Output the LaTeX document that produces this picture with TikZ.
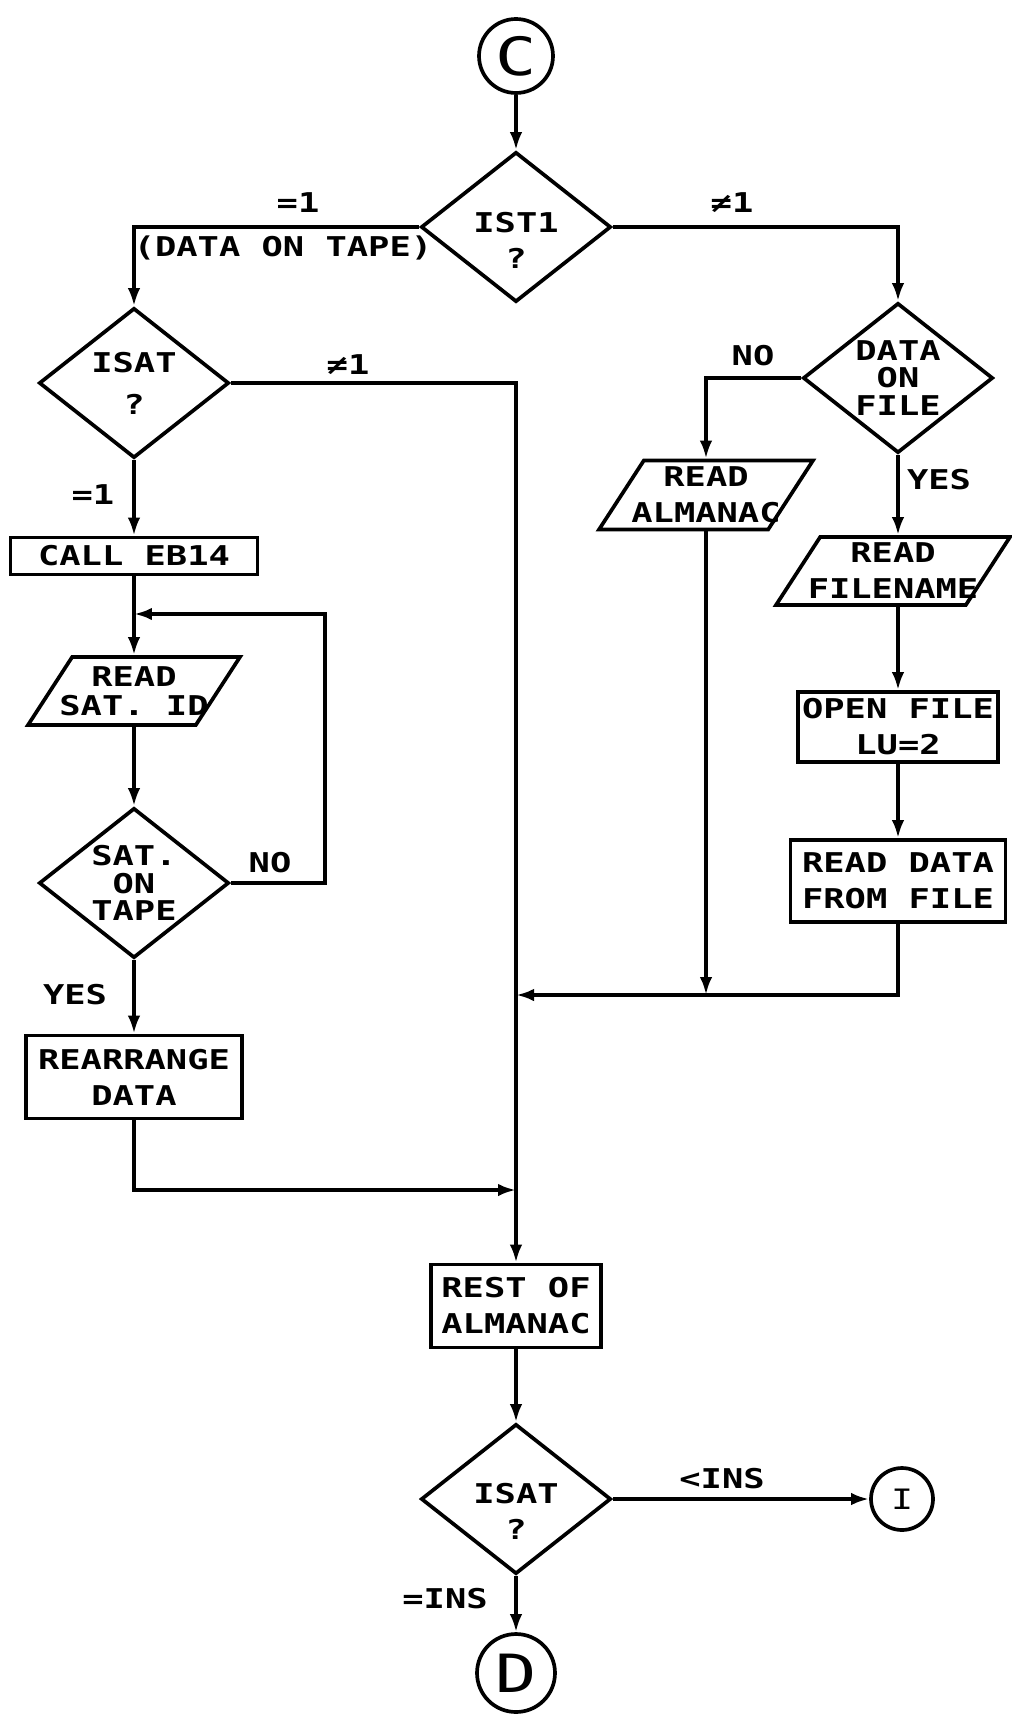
\documentclass[tikz,border=0pt]{standalone}
\usepackage{fontspec}
\newfontfamily\plotfont[FakeStretch=1.3]{DejaVu Sans Mono}
\usetikzlibrary{shapes.geometric,arrows.meta}
\tikzset{
  flow/.style={line width=2.1pt,-{Latex[length=3.6mm,width=2.5mm]}},
  decision/.style={diamond,draw,line width=2.1pt,minimum width=3.8cm,minimum height=3cm,
    inner sep=0pt,aspect=1.27,align=center},
  process/.style={rectangle,draw,line width=2.1pt,inner sep=0pt,align=center},
  io/.style={trapezium,trapezium left angle=57,trapezium right angle=123,
    trapezium stretches body,draw,line width=2.1pt,inner sep=0pt},
  connector/.style={circle,draw,line width=2.1pt,inner sep=0pt,
    font=\plotfont\mdseries\fontsize{30}{30}\selectfont},
  note/.style={inner sep=1pt}
}
\begin{document}
\begin{tikzpicture}[x={(0.02cm,0cm)},y={(0cm,-0.02cm)},
  font=\plotfont\bfseries\fontsize{15.5}{20.5}\selectfont]
\useasboundingbox (0,0) rectangle (1011,1716);
% boxes
\node[connector,minimum size=1.48cm] (cC) at (516,56) {C};
\node[decision,label={[align=center,yshift=-0.26cm]center:IST1\\?}] (dIST) at (516,227) {};
\node[decision] (dISATa) at (134,383) {ISAT\\[3.5pt]?};
\node[process,minimum width=4.94cm,minimum height=0.74cm] (bCall) at (134,556) {CALL EB14};
\node[io,minimum width=4.24cm,
  label={[align=center]center:READ\\[-4pt]SAT. ID}] (pSatId) at (134,691) {\rule{0pt}{1.36cm}};
\node[decision] (dOnTape) at (134,883) {SAT.\\[-5pt]ON\\[-5pt]TAPE};
\node[process,minimum width=4.32cm,minimum height=1.66cm] (bRearr) at (134,1077) {REARRANGE\\DATA};
\node[decision] (dOnFile) at (898,378) {DATA\\[-5pt]ON\\[-5pt]FILE};
\node[io,minimum width=4.28cm,
  label={[align=center]center:READ\\ALMANAC}] (pAlm) at (706,495) {\rule{0pt}{1.38cm}};
\node[io,minimum width=4.68cm,
  label={[align=center]center:READ\\FILENAME}] (pFile) at (893,571) {\rule{0pt}{1.36cm}};
\node[process,minimum width=4cm,minimum height=1.4cm] (bOpen) at (898,727) {OPEN FILE\\LU=2};
\node[process,minimum width=4.3cm,minimum height=1.64cm] (bRead) at (898,881) {READ DATA\\FROM FILE};
\node[process,minimum width=3.4cm,minimum height=1.66cm] (bRest) at (516,1306) {REST OF\\ALMANAC};
\node[decision,label={[align=center,yshift=-0.24cm]center:ISAT\\?}] (dISATb) at (516,1499) {};
\node[connector,minimum size=1.24cm,font=\plotfont\mdseries\fontsize{16}{16}\selectfont] (cI) at (902,1499) {I};
\node[connector,minimum size=1.56cm] (cD) at (516,1673) {D};
% free ends
\coordinate (loopR) at (325,614);
\coordinate (loopIn) at (134,614);
\coordinate (joinL) at (516,1190);
\coordinate (joinR) at (516,995);
% lines
\draw[flow] (cC.south) -- (dIST.north);
\draw[flow] (dIST.west) -| (dISATa.north);
\draw[flow] (dIST.east) -| (dOnFile.north);
\draw[flow] (dISATa.east) -| (bRest.north);
\draw[flow] (dISATa.south) -- (bCall.north);
\draw[flow] (bCall.south) -- (pSatId.north);
\draw[flow] (pSatId.south) -- (dOnTape.north);
\draw[flow] (dOnTape.east) -| (loopR) -- (loopIn);
\draw[flow] (dOnTape.south) -- (bRearr.north);
\draw[flow] (bRearr.south) |- (joinL);
\draw[flow] (dOnFile.west) -| (pAlm.north);
\draw[flow] (dOnFile.south) -- (dOnFile.south |- pFile.north);
\draw[flow] (bOpen.north |- pFile.south) -- (bOpen.north);
\draw[flow] (bOpen.south) -- (bRead.north);
\draw[flow] (bRead.south) |- (joinR);
\draw[flow] (pAlm.south) -- (pAlm.south |- joinR);
\draw[flow] (bRest.south) -- (dISATb.north);
\draw[flow] (dISATb.east) -- (cI.west);
\draw[flow] (dISATb.south) -- (cD.north);
% labels
\node[note] (lEqA) at (298,203) {=1};
\node[note] (lTape) at (283,248) {(DATA ON TAPE)};
\node[note] (lNeA) at (732,203) {≠1};
\node[note] (lNeB) at (348,365) {≠1};
\node[note] (lEqB) at (93,495) {=1};
\node[note] (lNoA) at (270,863) {NO};
\node[note] (lYesA) at (75,995) {YES};
\node[note] (lNoB) at (753,356) {NO};
\node[note] (lYesB) at (939,480) {YES};
\node[note] (lLt) at (722,1479) {<INS};
\node[note] (lEqC) at (445,1599) {=INS};
\end{tikzpicture}
\end{document}
